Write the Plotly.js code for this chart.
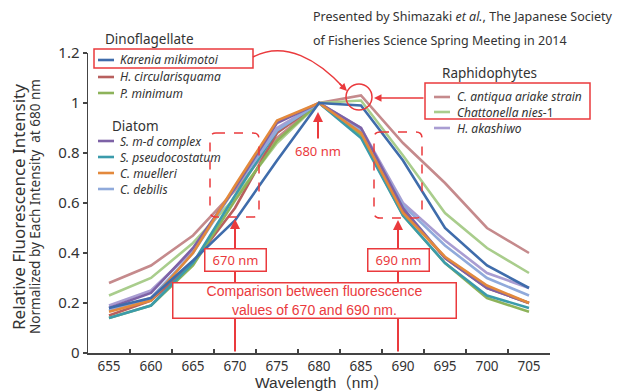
<!DOCTYPE html>
<html>
<head>
<meta charset="utf-8">
<script src="https://cdn.plot.ly/plotly-3.0.1.min.js"></script>
<style>html,body{margin:0;padding:0;background:#fff;}#chart{width:617px;height:392px;}</style>
</head>
<body>
<div id="chart"></div>
<script>
// ---- data ----
const wavelengths = [655, 660, 665, 670, 675, 680, 685, 690, 695, 700, 705];
const karenia      = [0.18, 0.22, 0.37, 0.53, 0.77, 1.00, 0.99, 0.77, 0.50, 0.35, 0.26];
const hCircular    = [0.15, 0.21, 0.36, 0.58, 0.88, 1.00, 0.88, 0.57, 0.38, 0.26, 0.20];
const pMinimum     = [0.14, 0.19, 0.35, 0.61, 0.85, 1.00, 0.87, 0.55, 0.36, 0.22, 0.165];
const sMdComplex   = [0.18, 0.24, 0.42, 0.66, 0.92, 1.00, 0.90, 0.58, 0.38, 0.26, 0.20];
const sPseudo      = [0.14, 0.19, 0.36, 0.63, 0.89, 1.00, 0.86, 0.55, 0.36, 0.23, 0.18];
const cMuelleri    = [0.165, 0.21, 0.40, 0.67, 0.93, 1.00, 0.88, 0.56, 0.385, 0.27, 0.20];
const cDebilis     = [0.17, 0.22, 0.40, 0.66, 0.89, 1.00, 0.89, 0.59, 0.43, 0.30, 0.23];
const cAntiqua     = [0.28, 0.35, 0.47, 0.65, 0.86, 1.00, 1.03, 0.84, 0.68, 0.50, 0.40];
const chattonella  = [0.23, 0.30, 0.44, 0.62, 0.84, 1.00, 1.01, 0.79, 0.56, 0.42, 0.32];
const hAkashiwo    = [0.19, 0.25, 0.41, 0.66, 0.90, 1.00, 0.90, 0.60, 0.45, 0.32, 0.26];

const seriesNames = ['<i>Karenia mikimotoi</i>', '<i>H. circularisquama</i>', '<i>P. minimum</i>',
  '<i>S. m-d complex</i>', '<i>S. pseudocostatum</i>', '<i>C. muelleri</i>', '<i>C. debilis</i>',
  '<i>C. antiqua ariake strain</i>', '<i>Chattonella nies</i>-1', '<i>H. akashiwo</i>'];
const seriesValues = [karenia, hCircular, pMinimum, sMdComplex, sPseudo, cMuelleri, cDebilis, cAntiqua, chattonella, hAkashiwo];
const groupTitles = ['Dinoflagellate', 'Diatom', 'Raphidophytes'];
const groupMembers = [[0, 1, 2], [3, 4, 5, 6], [7, 8, 9]];
const yTicks = [0, 0.2, 0.4, 0.6, 0.8, 1, 1.2];

// ---- styles ----
const colors = ['#3f6cab', '#b8605e', '#8db35a', '#7d62a6', '#3b9bab', '#e3893c', '#90aadb', '#c58a8c', '#a9cd8c', '#a99dd2'];
const drawOrder = [7, 8, 1, 2, 4, 9, 6, 3, 5, 0];
const RED = '#ea3a3d';
const L = 88, T = 53, W = 462, H = 300;
const X = p => (p - L) / W;
const Y = p => (T + H - p) / H;

const traces = drawOrder.map(i => ({
  x: wavelengths.map(String), y: seriesValues[i], type: 'scatter', mode: 'lines',
  line: {color: colors[i], width: 2.6}, showlegend: false, hoverinfo: 'skip'
}));

const annotations = [];
const shapes = [];
const txtFont = {family: 'Noto Sans, sans-serif', size: 12, color: '#333'};

// custom grouped legend
const groupPos = [{tx: 103, ty: 39, lx: 98, ex: 118, ys: [60, 77, 93]},
                  {tx: 110, ty: 126, lx: 98, ex: 118, ys: [141, 157, 173, 189]},
                  {tx: 440, ty: 73, lx: 434, ex: 455, ys: [97, 112, 128]}];
groupTitles.forEach((g, gi) => {
  const p = groupPos[gi];
  annotations.push({xref: 'paper', yref: 'paper', x: X(p.tx), y: Y(p.ty), xanchor: 'left', yanchor: 'middle',
    text: g, showarrow: false, font: {family: 'Noto Sans, sans-serif', size: 13.5, color: '#333'}});
  groupMembers[gi].forEach((si, k) => {
    shapes.push({type: 'line', xref: 'paper', yref: 'paper', x0: X(p.lx), x1: X(p.lx + 16), y0: Y(p.ys[k]), y1: Y(p.ys[k]),
      line: {color: colors[si], width: 2.6}});
    annotations.push({xref: 'paper', yref: 'paper', x: X(p.ex), y: Y(p.ys[k]), xanchor: 'left', yanchor: 'middle',
      text: seriesNames[si], showarrow: false, font: txtFont});
  });
});

// header
annotations.push({xref: 'paper', yref: 'paper', x: X(311), y: Y(17), xanchor: 'left', yanchor: 'middle', showarrow: false,
  text: 'Presented by Shimazaki <i>et al.</i>, The Japanese Society', font: {family: 'Noto Sans, sans-serif', size: 12.5, color: '#333'}});
annotations.push({xref: 'paper', yref: 'paper', x: X(311), y: Y(41), xanchor: 'left', yanchor: 'middle', showarrow: false,
  text: 'of Fisheries Science Spring Meeting in 2014', font: {family: 'Noto Sans, sans-serif', size: 12.5, color: '#333'}});

// y-axis titles
annotations.push({xref: 'paper', yref: 'paper', x: X(18), y: Y(207), xanchor: 'center', yanchor: 'middle', showarrow: false, textangle: -90,
  text: 'Relative Fluorescence Intensity', font: {family: 'Noto Sans, sans-serif', size: 17, color: '#333'}});
annotations.push({xref: 'paper', yref: 'paper', x: X(35), y: Y(207), xanchor: 'center', yanchor: 'middle', showarrow: false, textangle: -90,
  text: 'Normalized by Each Intensity  at 680 nm', font: {family: 'Noto Sans, sans-serif', size: 13.5, color: '#333'}});

// red decorations
shapes.push({type: 'rect', xref: 'paper', yref: 'paper', x0: X(94), x1: X(253), y0: Y(49), y1: Y(68), line: {color: RED, width: 1.5}});
shapes.push({type: 'rect', xref: 'paper', yref: 'paper', x0: X(425), x1: X(590), y0: Y(83), y1: Y(119), line: {color: RED, width: 1.5}});
shapes.push({type: 'circle', xref: 'paper', yref: 'paper', x0: X(346), x1: X(372), y0: Y(84), y1: Y(110), line: {color: RED, width: 1.5}});
shapes.push({type: 'path', xref: 'paper', yref: 'paper', line: {color: RED, width: 1.5},
  path: `M ${X(253)} ${Y(57)} C ${X(285)} ${Y(40)} ${X(318)} ${Y(60)} ${X(344)} ${Y(88)}`});
function dashedBox(x0, y0, x1, y1) {
  const r = 6;
  return {type: 'path', xref: 'paper', yref: 'paper', line: {color: RED, width: 1.5, dash: 'dash'},
    path: `M ${X(x0 + r)} ${Y(y0)} L ${X(x1 - r)} ${Y(y0)} Q ${X(x1)} ${Y(y0)} ${X(x1)} ${Y(y0 + r)} L ${X(x1)} ${Y(y1 - r)} Q ${X(x1)} ${Y(y1)} ${X(x1 - r)} ${Y(y1)} L ${X(x0 + r)} ${Y(y1)} Q ${X(x0)} ${Y(y1)} ${X(x0)} ${Y(y1 - r)} L ${X(x0)} ${Y(y0 + r)} Q ${X(x0)} ${Y(y0)} ${X(x0 + r)} ${Y(y0)} Z`};
}
shapes.push(dashedBox(210, 133, 259, 217));
shapes.push(dashedBox(374, 132, 422, 218));

// arrows
annotations.push({xref: 'paper', yref: 'paper', x: X(347), y: Y(91), ax: -9, ay: -9, text: '', showarrow: true,
  arrowhead: 2, arrowsize: 1, arrowwidth: 1.5, arrowcolor: RED});
annotations.push({xref: 'paper', yref: 'paper', x: X(374), y: Y(98), ax: 51, ay: 0, text: '', showarrow: true,
  arrowhead: 2, arrowsize: 1, arrowwidth: 1.5, arrowcolor: RED});
annotations.push({xref: 'paper', yref: 'paper', x: X(318), y: Y(112), ax: 0, ay: 28, text: '', showarrow: true,
  arrowhead: 2, arrowsize: 1, arrowwidth: 2, arrowcolor: RED});
annotations.push({xref: 'paper', yref: 'paper', x: X(318), y: Y(151), xanchor: 'center', yanchor: 'middle', showarrow: false,
  text: '680 nm', font: {family: 'Noto Sans, sans-serif', size: 13, color: RED}});
annotations.push({xref: 'paper', yref: 'paper', x: X(235), y: Y(219), ax: 0, ay: 134, text: '', showarrow: true,
  arrowhead: 2, arrowsize: 1, arrowwidth: 2, arrowcolor: RED});
annotations.push({xref: 'paper', yref: 'paper', x: X(398), y: Y(220), ax: 0, ay: 133, text: '', showarrow: true,
  arrowhead: 2, arrowsize: 1, arrowwidth: 2, arrowcolor: RED});
annotations.push({xref: 'paper', yref: 'paper', x: X(235.5), y: Y(259.5), xanchor: 'center', yanchor: 'middle', showarrow: false,
  text: '670 nm', width: 58, height: 19, bgcolor: '#fff', bordercolor: RED, borderwidth: 1.5,
  font: {family: 'Noto Sans, sans-serif', size: 13, color: RED}});
annotations.push({xref: 'paper', yref: 'paper', x: X(398), y: Y(259.5), xanchor: 'center', yanchor: 'middle', showarrow: false,
  text: '690 nm', width: 58, height: 19, bgcolor: '#fff', bordercolor: RED, borderwidth: 1.5,
  font: {family: 'Noto Sans, sans-serif', size: 13, color: RED}});
annotations.push({xref: 'paper', yref: 'paper', x: X(314), y: Y(300), xanchor: 'center', yanchor: 'middle', showarrow: false,
  text: 'Comparison between fluorescence<br>values of 670 and 690 nm.', width: 280, height: 32, align: 'center',
  bgcolor: '#fff', bordercolor: RED, borderwidth: 1.5,
  font: {family: 'Liberation Sans, Arial, sans-serif', size: 14, color: RED}});

// x-axis title
annotations.push({xref: 'paper', yref: 'paper', x: X(322), y: Y(391.5), xanchor: 'center', yanchor: 'bottom', showarrow: false,
  borderpad: 0, text: 'Wavelength（nm）', font: {family: 'Liberation Sans, Noto Sans CJK JP, sans-serif', size: 15.5, color: '#333'}});

const layout = {
  width: 617, height: 392,
  margin: {l: L, r: 617 - L - W, t: T, b: 392 - T - H},
  paper_bgcolor: '#fff', plot_bgcolor: '#fff',
  showlegend: false,
  xaxis: {type: 'category', range: [-0.5, 10.5], tickson: 'boundaries', ticks: 'inside', ticklen: 4, tickwidth: 1.2, tickcolor: '#444',
    showline: true, linecolor: '#444', linewidth: 1.5, showgrid: false, zeroline: false, fixedrange: true,
    tickfont: {family: 'Noto Sans, sans-serif', size: 13.5, color: '#333'}},
  yaxis: {range: [0, 1.2], tickvals: yTicks, ticktext: yTicks.map(String), ticks: 'outside', ticklen: 4, tickwidth: 1.2, tickcolor: '#444',
    showline: true, linecolor: '#444', linewidth: 1.5, showgrid: false, zeroline: false, fixedrange: true,
    tickfont: {family: 'Noto Sans, sans-serif', size: 15, color: '#333'}},
  shapes: shapes,
  annotations: annotations
};

Plotly.newPlot('chart', traces, layout, {staticPlot: true, displayModeBar: false});
</script>
</body>
</html>
